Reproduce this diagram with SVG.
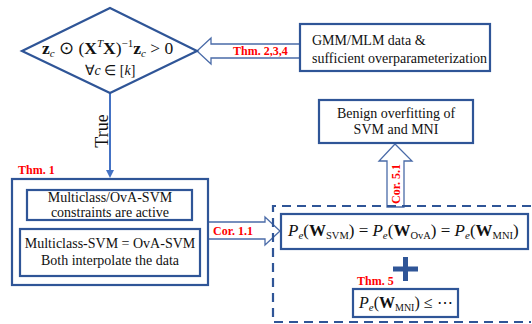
<svg xmlns="http://www.w3.org/2000/svg" width="532" height="324" viewBox="0 0 532 324">
  <style>
    .box { fill: #ffffff; stroke: #2F5597; stroke-width: 2.2; }
    .dash { fill: none; stroke: #2F5597; stroke-width: 2.2; stroke-dasharray: 9 6; }
    .hollow { fill: #ffffff; stroke: #4A6BA8; stroke-width: 1.3; stroke-linejoin: miter; }
    .t { font-family: "Liberation Serif", "Times New Roman", serif; font-size: 14px; fill: #111111; }
    .m { font-family: "Liberation Serif", "Times New Roman", serif; fill: #111111; }
    .red { font-family: "Liberation Serif", "Times New Roman", serif; font-size: 12px; font-weight: bold; fill: #FF0000; }
  </style>

  <!-- connectors -->
  <g id="connectors">
    <!-- True edge: condition to Thm. 1 box -->
    <line x1="110" y1="93" x2="110" y2="172" stroke="#4472C4" stroke-width="2"/>
    <path d="M106,170 L110,178 L114,170 Z" fill="#4472C4"/>
    <text class="m" font-size="18" transform="translate(108,131) rotate(-90)" text-anchor="middle">True</text>

    <!-- Thm. 2,3,4: data assumptions imply the condition -->
    <path class="hollow" d="M300,44 L211,44 L211,38 L197,51 L211,64 L211,58 L300,58 Z"/>
    <text class="red" x="233" y="55">Thm. 2,3,4</text>

    <!-- Cor. 1.1 -->
    <path class="hollow" d="M208,222 L265,222 L265,217 L280,231 L265,245 L265,239 L208,239 Z"/>
    <text class="red" x="213" y="235">Cor. 1.1</text>

    <!-- Cor. 5.1 -->
    <path class="hollow" d="M387,207 L387,161 L379,161 L395,144 L412,161 L404,161 L404,207 Z"/>
    <text class="red" transform="translate(400,184) rotate(-90)" text-anchor="middle">Cor. 5.1</text>
  </g>

  <!-- condition diamond -->
  <g id="condition">
    <path class="box" d="M110,8 L197,51 L110,93 L22,51 Z"/>
    <text class="m" font-size="17.5" x="42" y="54"><tspan font-weight="bold">z</tspan><tspan font-style="italic" font-size="11" dy="3">c</tspan><tspan dy="-3"> ⊙ (</tspan><tspan font-weight="bold">X</tspan><tspan font-style="italic" font-size="11" dy="-7">T</tspan><tspan font-weight="bold" dy="7">X</tspan><tspan>)</tspan><tspan font-size="11" dy="-7">−1</tspan><tspan font-weight="bold" dy="7">z</tspan><tspan font-style="italic" font-size="11" dy="3">c</tspan><tspan dy="-3"> &gt; 0</tspan></text>
    <text class="m" font-size="14" x="110" y="75" text-anchor="middle">∀<tspan font-style="italic">c</tspan> ∈ [<tspan font-style="italic">k</tspan>]</text>
  </g>

  <!-- data assumptions -->
  <g id="data">
    <rect class="box" x="300" y="24" width="190" height="47"/>
    <text class="t" x="312" y="45">GMM/MLM data &amp;</text>
    <text class="t" x="312" y="63">sufficient overparameterization</text>
  </g>

  <!-- Thm. 1 -->
  <g id="thm1">
    <text class="red" x="18" y="174">Thm. 1</text>
    <rect class="box" x="12" y="179" width="196" height="106"/>
    <rect class="box" x="27" y="190" width="165" height="30"/>
    <text class="t" x="110" y="202" text-anchor="middle">Multiclass/OvA-SVM</text>
    <text class="t" x="110" y="217" text-anchor="middle">constraints are active</text>
    <rect class="box" x="20" y="229" width="180" height="47"/>
    <text class="t" x="110" y="248" text-anchor="middle">Multiclass-SVM = OvA-SVM</text>
    <text class="t" x="110" y="265" text-anchor="middle">Both interpolate the data</text>
  </g>

  <!-- benign overfitting -->
  <g id="benign">
    <rect class="box" x="319" y="100" width="154" height="43"/>
    <text class="t" x="396" y="118" text-anchor="middle">Benign overfitting of</text>
    <text class="t" x="396" y="134" text-anchor="middle">SVM and MNI</text>
  </g>

  <!-- error equivalence and bound -->
  <g id="errors">
    <path class="dash" d="M531,206 L273,206 L273,322 L531,322"/>
    <rect class="box" x="281" y="214" width="247" height="35"/>
    <text class="m" font-size="17" x="288" y="236"><tspan font-style="italic">P</tspan><tspan font-style="italic" font-size="11" dy="3">e</tspan><tspan dy="-3">(</tspan><tspan font-weight="bold">W</tspan><tspan font-size="10.5" dy="3">SVM</tspan><tspan dy="-3">) = </tspan><tspan font-style="italic">P</tspan><tspan font-style="italic" font-size="11" dy="3">e</tspan><tspan dy="-3">(</tspan><tspan font-weight="bold">W</tspan><tspan font-size="10.5" dy="3">OvA</tspan><tspan dy="-3">) = </tspan><tspan font-style="italic">P</tspan><tspan font-style="italic" font-size="11" dy="3">e</tspan><tspan dy="-3">(</tspan><tspan font-weight="bold">W</tspan><tspan font-size="10.5" dy="3">MNI</tspan><tspan dy="-3">)</tspan></text>
    <path d="M393,269 L418,269 M405.5,257 L405.5,281" stroke="#2F5597" stroke-width="5"/>
    <text class="red" x="357" y="285">Thm. 5</text>
    <rect class="box" x="353" y="289" width="105" height="28"/>
    <text class="m" font-size="16" x="359" y="308"><tspan font-style="italic">P</tspan><tspan font-style="italic" font-size="11" dy="3">e</tspan><tspan dy="-3">(</tspan><tspan font-weight="bold">W</tspan><tspan font-size="10" dy="3">MNI</tspan><tspan dy="-3">) ≤ ⋯</tspan></text>
  </g>
</svg>
